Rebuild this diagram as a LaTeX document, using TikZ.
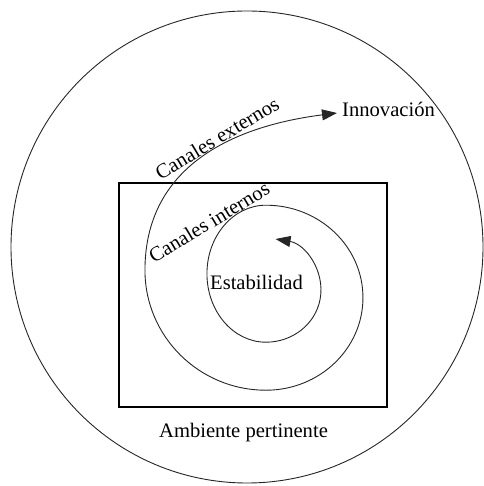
\documentclass[tikz,border=0pt]{standalone}
\usepackage{fontspec}
\setmainfont{Liberation Serif}
\usetikzlibrary{arrows.meta}
\begin{document}
\begin{tikzpicture}[x=1pt,y=1pt,
  thinline/.style={line width=0.9pt, draw=black!85},
  label/.style={inner sep=0pt, font=\fontsize{20.6}{24}\selectfont},
  headtip/.tip={Triangle[length=15pt,width=11pt]}]
  \useasboundingbox (0,0) rectangle (483,486);

  % environment circle and relevant-environment box
  \node[thinline, circle, minimum size=472pt, inner sep=0pt] (env) at (247,239) {};
  \node[draw=black, line width=1.1pt, minimum width=268pt, minimum height=224pt, inner sep=0pt] (box) at (253,191) {};

  % spiral from stability (inside) out to innovation
  \coordinate (inner) at (275.5,247);
  \coordinate (outer) at (337,373);
  \draw[thinline, headtip-headtip] (inner)
    arc[start angle=80, end angle=-90, x radius=55pt, y radius=52pt]
    arc[start angle=-90, end angle=-270, x radius=59pt, y radius=68.5pt]
    arc[start angle=90, end angle=-90, x radius=97pt, y radius=92.5pt]
    arc[start angle=270, end angle=180, x radius=121pt, y radius=120pt]
    .. controls (145,316) and (227,359) .. (outer);

  % labels
  \node[label, anchor=base west] (innov) at (342,369) {Innovación};
  \node[label, anchor=base] (estab) at (256.5,196) {Estabilidad};
  \node[label, anchor=base] (amb) at (243.5,48) {Ambiente pertinente};
  \node[label, rotate=31] (ext) at (217,348) {Canales externos};
  \node[label, rotate=31] (int) at (209,264) {Canales internos};
\end{tikzpicture}
\end{document}
